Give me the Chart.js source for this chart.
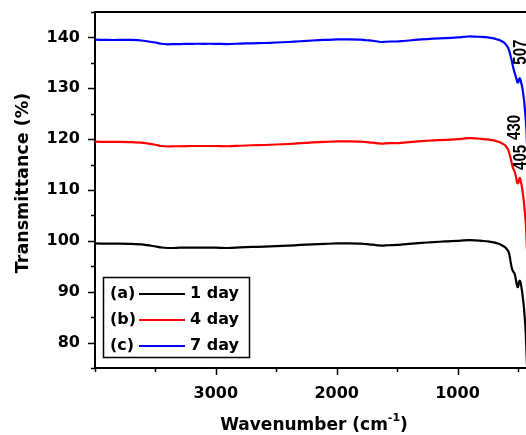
<!DOCTYPE html>
<html>
<head>
<meta charset="utf-8">
<script src="https://cdn.jsdelivr.net/npm/chart.js@4"></script>
<style>
html,body{margin:0;padding:0;background:#fff;overflow:hidden;width:526px;height:435px;}
#wrap{position:absolute;left:0;top:0;width:540px;height:435px;}
</style>
</head>
<body>
<div id="wrap"><canvas id="c" width="540" height="435"></canvas></div>
<script>
// ---- data ----
const wavenumbers = [4000,3900,3800,3700,3600,3500,3450,3400,3350,3300,3200,3100,3000,2900,2800,2700,2600,2500,2400,2300,2200,2100,2000,1900,1800,1750,1700,1650,1620,1600,1550,1500,1450,1400,1300,1200,1100,1000,950,900,850,800,750,700,670,650,630,610,600,590,580,570,560,550,540,530,520,510,505,500,495,490,485,480,475,470,465,460,455,450,445,440,435,430,420,410,400];
const day1 = [99.5,99.45,99.45,99.4,99.25,98.9,98.7,98.6,98.6,98.65,98.65,98.65,98.65,98.6,98.7,98.8,98.85,98.95,99.05,99.2,99.3,99.4,99.5,99.5,99.45,99.35,99.25,99.1,99.05,99.1,99.15,99.2,99.3,99.4,99.6,99.75,99.9,100.0,100.1,100.15,100.1,100.0,99.9,99.7,99.5,99.35,99.1,98.8,98.6,98.3,98.0,97.2,95.8,94.6,94.0,93.7,92.8,91.5,91.0,90.9,91.3,92.0,92.2,92.0,91.5,90.7,89.9,89.0,88.0,86.8,85.3,83.8,81.8,78.5,73,70,68];
const day4 = [119.5,119.45,119.45,119.4,119.25,118.9,118.65,118.55,118.6,118.6,118.65,118.65,118.65,118.6,118.7,118.8,118.85,118.95,119.05,119.2,119.35,119.45,119.55,119.55,119.5,119.4,119.3,119.15,119.1,119.15,119.2,119.2,119.3,119.4,119.6,119.75,119.85,120.0,120.1,120.2,120.15,120.05,119.95,119.75,119.55,119.4,119.15,118.85,118.6,118.3,117.9,117.1,116.2,115.1,114.3,113.8,113.0,111.9,111.4,111.3,111.5,112.1,112.4,112.1,111.6,111.0,110.3,109.5,108.6,107.5,106.2,105.0,103.5,101.0,96,92,90];
const day7 = [139.55,139.5,139.5,139.5,139.35,139.0,138.75,138.65,138.7,138.7,138.75,138.75,138.75,138.7,138.8,138.85,138.9,139.0,139.1,139.25,139.4,139.5,139.6,139.6,139.55,139.45,139.35,139.15,139.1,139.15,139.2,139.2,139.3,139.4,139.6,139.75,139.85,140.0,140.1,140.2,140.15,140.1,140.0,139.8,139.6,139.45,139.2,138.9,138.6,138.3,137.9,137.2,136.3,135.3,134.2,133.3,132.5,131.7,131.2,131.1,131.3,131.8,132.0,131.8,131.3,130.8,130.3,129.6,128.7,127.8,126.6,125.3,123.8,122,117,113,110];
const seriesLabels = ['1 day','4 day','7 day'];
const seriesTags = ['(a)','(b)','(c)'];
const xTickLabels = [1000,2000,3000];
const xMinorTicks = [500,1000,1500,2000,2500,3000,3500,4000];
const yTickLabels = [80,90,100,110,120,130,140];
const yMinorTicks = [75,80,85,90,95,100,105,110,115,120,125,130,135,140,145];
const peakLabels = ['507','430','405'];
const peakWavenumbers = [478,520,478];
const peakValues = [137.1,122.3,116.4];

// ---- styles ----
const seriesColors = ['#000000','#ff0000','#0000ff'];
const FONT = '"DejaVu Sans", sans-serif';

const toPts = arr => wavenumbers.map((w,i)=>({x:w,y:arr[i]}));

const decor = {
  id:'decor',
  afterDraw(chart){
    const ctx = chart.ctx, a = chart.chartArea, xs = chart.scales.x, ys = chart.scales.y;
    ctx.save();
    ctx.strokeStyle = '#000'; ctx.lineWidth = 2;
    // top and right frame
    ctx.beginPath();
    ctx.moveTo(a.left-1, a.top); ctx.lineTo(a.right, a.top);
    ctx.moveTo(a.right, a.top); ctx.lineTo(a.right, a.bottom);
    ctx.stroke();
    // ticks
    ctx.lineWidth = 1.5;
    ctx.beginPath();
    xMinorTicks.forEach(v=>{
      const px = Math.round(xs.getPixelForValue(v))+0.5;
      const len = xTickLabels.includes(v) ? 7 : 4;
      ctx.moveTo(px, a.bottom); ctx.lineTo(px, a.bottom+len);
    });
    yMinorTicks.forEach(v=>{
      const py = Math.round(ys.getPixelForValue(v))+0.5;
      const len = yTickLabels.includes(v) ? 7 : 4;
      ctx.moveTo(a.left, py); ctx.lineTo(a.left-len, py);
    });
    ctx.stroke();
    ctx.fillStyle = '#000';
    // y title
    ctx.save();
    ctx.translate(23, 183);
    ctx.rotate(-Math.PI/2);
    ctx.font = 'bold 17.5px ' + FONT;
    ctx.textAlign = 'center'; ctx.textBaseline = 'middle';
    ctx.fillText('Transmittance (%)', 0, 0);
    ctx.restore();
    // x title with superscript
    ctx.font = 'bold 17px ' + FONT;
    const t1 = 'Wavenumber (cm', t3 = ')';
    const w1 = ctx.measureText(t1).width, w3 = ctx.measureText(t3).width;
    ctx.font = 'bold 11px ' + FONT;
    const t2 = '-1', w2 = ctx.measureText(t2).width;
    let x0 = 314 - (w1+w2+w3)/2;
    ctx.textBaseline = 'alphabetic'; ctx.textAlign = 'left';
    ctx.font = 'bold 17px ' + FONT;
    ctx.fillText(t1, x0, 430);
    ctx.font = 'bold 11px ' + FONT;
    ctx.fillText(t2, x0+w1, 421);
    ctx.font = 'bold 17px ' + FONT;
    ctx.fillText(t3, x0+w1+w2, 430);
    // legend
    ctx.lineWidth = 1.5;
    ctx.strokeRect(103.5, 277.5, 146, 80);
    ctx.font = 'bold 16px ' + FONT;
    ctx.textBaseline = 'middle';
    chart.data.datasets.forEach((ds,i)=>{
      const y = 294 + i*26;
      ctx.fillStyle = '#000';
      ctx.fillText(seriesTags[i], 110, y);
      ctx.strokeStyle = ds.borderColor; ctx.lineWidth = 2;
      ctx.beginPath(); ctx.moveTo(139, y); ctx.lineTo(185, y); ctx.stroke();
      ctx.fillText(ds.label, 190, y);
    });
    // peak annotations
    ctx.fillStyle = '#000';
    peakLabels.forEach((lab,i)=>{
      const px = xs.getPixelForValue(peakWavenumbers[i]);
      const py = ys.getPixelForValue(peakValues[i]);
      ctx.save();
      ctx.translate(px, py);
      ctx.rotate(-Math.PI/2);
      ctx.scale(1, 1.2);
      ctx.font = 'bold 15px "Liberation Sans", Arial, sans-serif';
      ctx.textAlign = 'center'; ctx.textBaseline = 'middle';
      ctx.fillText(lab, 0, 0);
      ctx.restore();
    });
    ctx.restore();
  }
};

new Chart(document.getElementById('c'), {
  type:'line',
  data:{
    datasets:[
      {label:seriesLabels[0], data:toPts(day1), borderColor:seriesColors[0]},
      {label:seriesLabels[1], data:toPts(day4), borderColor:seriesColors[1]},
      {label:seriesLabels[2], data:toPts(day7), borderColor:seriesColors[2]}
    ]
  },
  options:{
    responsive:false,
    animation:false,
    events:[],
    elements:{
      line:{borderWidth:2.2, tension:0.3, fill:false},
      point:{radius:0}
    },
    layout:{padding:{left:0, top:12, right:10, bottom:0}},
    plugins:{legend:{display:false}, tooltip:{enabled:false}, title:{display:false}},
    scales:{
      x:{
        type:'linear', reverse:true, min:400, max:4000,
        afterBuildTicks: s => { s.ticks = xMinorTicks.map(v=>({value:v})); },
        afterFit: s => { s.height = 67; s.paddingLeft = 0; s.paddingRight = 0; },
        grid:{display:false},
        border:{display:true, color:'#000', width:2},
        ticks:{
          padding:8, color:'#000', maxRotation:0, autoSkip:false,
          font:{family:FONT, size:16, weight:'bold'},
          callback: v => xTickLabels.includes(v) ? String(v) : ''
        }
      },
      y:{
        type:'linear', min:75, max:145,
        afterBuildTicks: s => { s.ticks = yMinorTicks.map(v=>({value:v})); },
        afterFit: s => { s.width = 95; s.paddingTop = 0; s.paddingBottom = 0; },
        grid:{display:false},
        border:{display:true, color:'#000', width:2},
        ticks:{
          padding:7, color:'#000', autoSkip:false,
          font:{family:FONT, size:16, weight:'bold'},
          callback: v => yTickLabels.includes(v) ? String(v) : ''
        }
      }
    }
  },
  plugins:[decor]
});
</script>
</body>
</html>
